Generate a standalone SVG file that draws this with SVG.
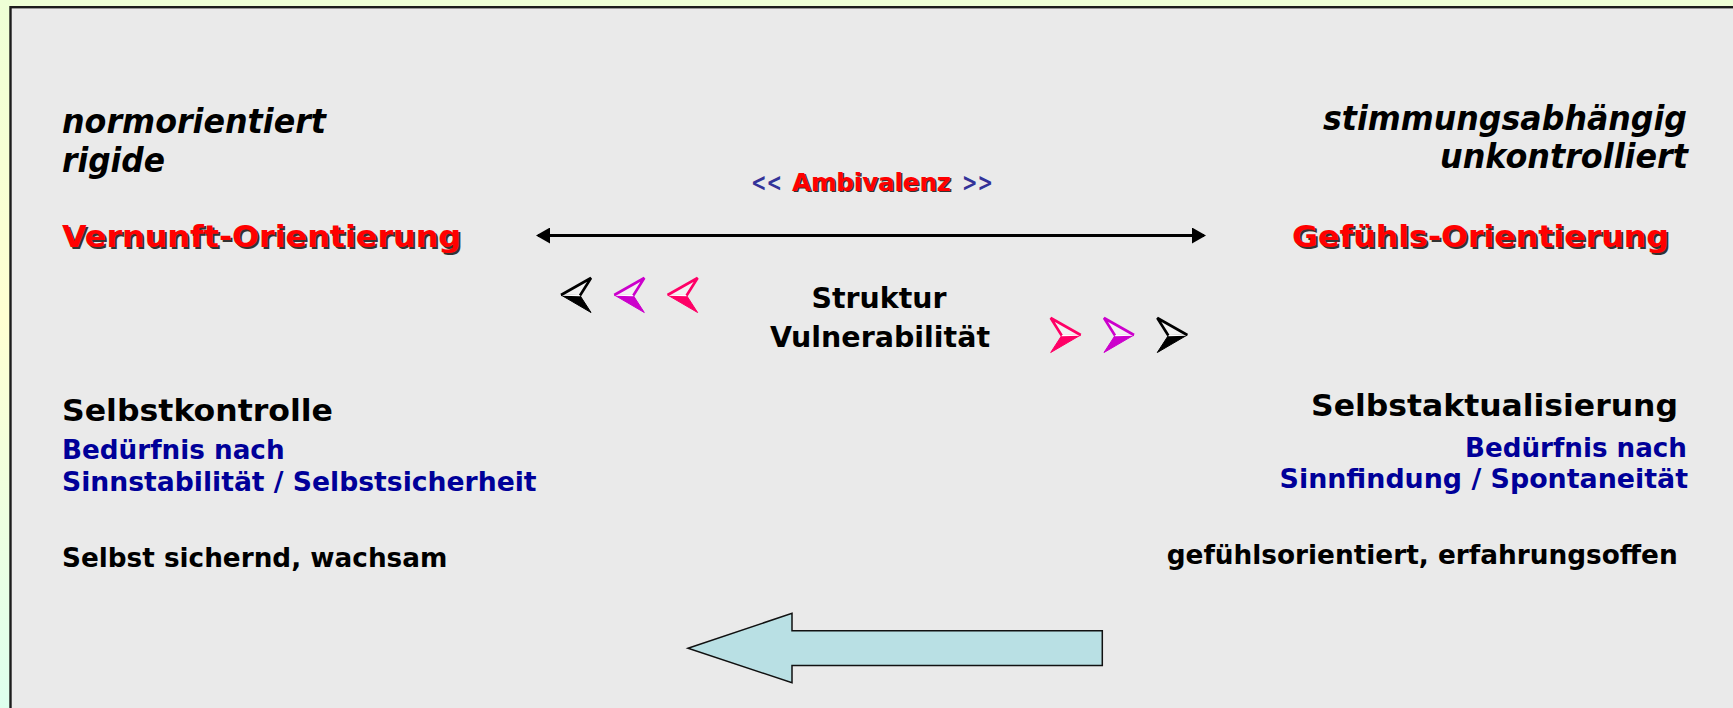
<svg xmlns="http://www.w3.org/2000/svg" xmlns:xlink="http://www.w3.org/1999/xlink" width="1733" height="708" viewBox="0 0 1733 708">
  <style>
    text { font-family: "DejaVu Sans", Verdana, sans-serif; font-weight: 700; }
    .it { font-style: italic; font-size: 33px; fill: #000; }
    .pole { font-size: 31px; fill: #ff0000; }
    .shadow { fill: #333333; }
    .head { font-size: 31px; fill: #000; }
    .need { font-size: 26px; fill: #000099; }
    .trait { font-size: 26px; fill: #000; }
    .amb { font-size: 24.5px; }
    .amb-mark { fill: #333399; }
    .amb-word { fill: #ff0000; }
    .mid { font-size: 29px; fill: #000; text-anchor: middle; }
    .axis { stroke: #000; stroke-width: 3; fill: none; }
    .flow { fill: #b9e0e4; stroke: #111; stroke-width: 1.5; stroke-linejoin: miter; }
  </style>
  <defs>
    <linearGradient id="bg" x1="0" y1="0" x2="0" y2="1">
      <stop offset="0" stop-color="#eeffd6"/>
      <stop offset="0.45" stop-color="#ffffd2"/>
      <stop offset="1" stop-color="#ddffee"/>
    </linearGradient>
    <marker id="head" viewBox="0 0 14 16" refX="12" refY="8" markerWidth="14" markerHeight="16" markerUnits="userSpaceOnUse" orient="auto-start-reverse">
      <path d="M0,0 L14,8 L0,16 Z" fill="#000"/>
    </marker>
    <!-- left-pointing bevelled arrowhead, tip at the origin -->
    <g id="chev">
      <polygon points="0,0 30,-17 19,0.5" fill="#f2f2f2"/>
      <polygon points="0,0 19,0.5 30,17.5" fill="currentColor" stroke="currentColor" stroke-width="1" stroke-linejoin="round"/>
      <line x1="1" y1="0" x2="19" y2="0.5" stroke="#ffffff" stroke-width="1.5"/>
      <polyline points="0,0 30,-17 19,0.5" fill="none" stroke="currentColor" stroke-width="2.6" stroke-linejoin="miter"/>
    </g>
  </defs>

  <!-- page and panel -->
  <rect x="0" y="0" width="1733" height="708" fill="url(#bg)"/>
  <rect x="10.5" y="7.2" width="1740" height="720" fill="#eaeaea" stroke="#1c1c1c" stroke-width="2.4"/>

  <!-- left pole -->
  <g id="left-pole">
    <text class="it" x="62" y="133" textLength="264" lengthAdjust="spacingAndGlyphs">normorientiert</text>
    <text class="it" x="62" y="171.5" textLength="103" lengthAdjust="spacingAndGlyphs">rigide</text>
    <text class="pole shadow" x="64" y="248.5" textLength="399" lengthAdjust="spacingAndGlyphs">Vernunft-Orientierung</text>
    <text class="pole" x="62" y="246.5" textLength="399" lengthAdjust="spacingAndGlyphs">Vernunft-Orientierung</text>
  </g>

  <!-- right pole -->
  <g id="right-pole">
    <text class="it" x="1323" y="130" textLength="364" lengthAdjust="spacingAndGlyphs">stimmungsabhängig</text>
    <text class="it" x="1440" y="168" textLength="248" lengthAdjust="spacingAndGlyphs">unkontrolliert</text>
    <text class="pole shadow" x="1294" y="249" textLength="377" lengthAdjust="spacingAndGlyphs">Gefühls-Orientierung</text>
    <text class="pole" x="1292" y="247" textLength="377" lengthAdjust="spacingAndGlyphs">Gefühls-Orientierung</text>
  </g>

  <!-- ambivalence label -->
  <g id="ambivalenz">
    <text class="amb amb-mark" x="751" y="190.5" textLength="31" lengthAdjust="spacingAndGlyphs">&lt;&lt;</text>
    <text class="amb shadow" x="793.5" y="192" textLength="159" lengthAdjust="spacingAndGlyphs">Ambivalenz</text>
    <text class="amb amb-word" x="792" y="190.5" textLength="159" lengthAdjust="spacingAndGlyphs">Ambivalenz</text>
    <text class="amb amb-mark" x="962" y="190.5" textLength="31" lengthAdjust="spacingAndGlyphs">&gt;&gt;</text>
  </g>

  <!-- centre label -->
  <g id="struktur">
    <text class="mid" x="879" y="308.3" textLength="135" lengthAdjust="spacingAndGlyphs">Struktur</text>
    <text class="mid" x="880" y="347.3" textLength="220" lengthAdjust="spacingAndGlyphs">Vulnerabilität</text>
  </g>

  <!-- left column -->
  <g id="selbstkontrolle">
    <text class="head" x="62" y="420.7" textLength="271" lengthAdjust="spacingAndGlyphs">Selbstkontrolle</text>
    <text class="need" x="62" y="459.3" textLength="222.6" lengthAdjust="spacingAndGlyphs">Bedürfnis nach</text>
    <text class="need" x="62" y="491" textLength="474.6" lengthAdjust="spacingAndGlyphs">Sinnstabilität / Selbstsicherheit</text>
    <text class="trait" x="62" y="567.3" textLength="385.4" lengthAdjust="spacingAndGlyphs">Selbst sichernd, wachsam</text>
  </g>

  <!-- right column -->
  <g id="selbstaktualisierung">
    <text class="head" x="1311" y="416" textLength="367" lengthAdjust="spacingAndGlyphs">Selbstaktualisierung</text>
    <text class="need" x="1465" y="456.7" textLength="222" lengthAdjust="spacingAndGlyphs">Bedürfnis nach</text>
    <text class="need" x="1279.6" y="488.3" textLength="408.4" lengthAdjust="spacingAndGlyphs">Sinnfindung / Spontaneität</text>
    <text class="trait" x="1166.7" y="564" textLength="511" lengthAdjust="spacingAndGlyphs">gefühlsorientiert, erfahrungsoffen</text>
  </g>

  <!-- connectors -->
  <g id="connectors">
    <line class="axis" x1="538" y1="235.5" x2="1204" y2="235.5" marker-start="url(#head)" marker-end="url(#head)"/>

    <g id="markers-left">
      <use xlink:href="#chev" href="#chev" transform="translate(561,295)" color="#000000"/>
      <use xlink:href="#chev" href="#chev" transform="translate(614.3,295)" color="#cc00cc"/>
      <use xlink:href="#chev" href="#chev" transform="translate(667.6,295)" color="#ff0066"/>
    </g>
    <g id="markers-right">
      <use xlink:href="#chev" href="#chev" transform="translate(1080.7,335) scale(-1,1)" color="#ff0066"/>
      <use xlink:href="#chev" href="#chev" transform="translate(1134,335) scale(-1,1)" color="#cc00cc"/>
      <use xlink:href="#chev" href="#chev" transform="translate(1187.3,335) scale(-1,1)" color="#000000"/>
    </g>

    <polygon class="flow" points="688,648.3 792,613.3 792,630.7 1102.3,630.7 1102.3,665.5 792,665.5 792,682.7"/>
  </g>
</svg>
